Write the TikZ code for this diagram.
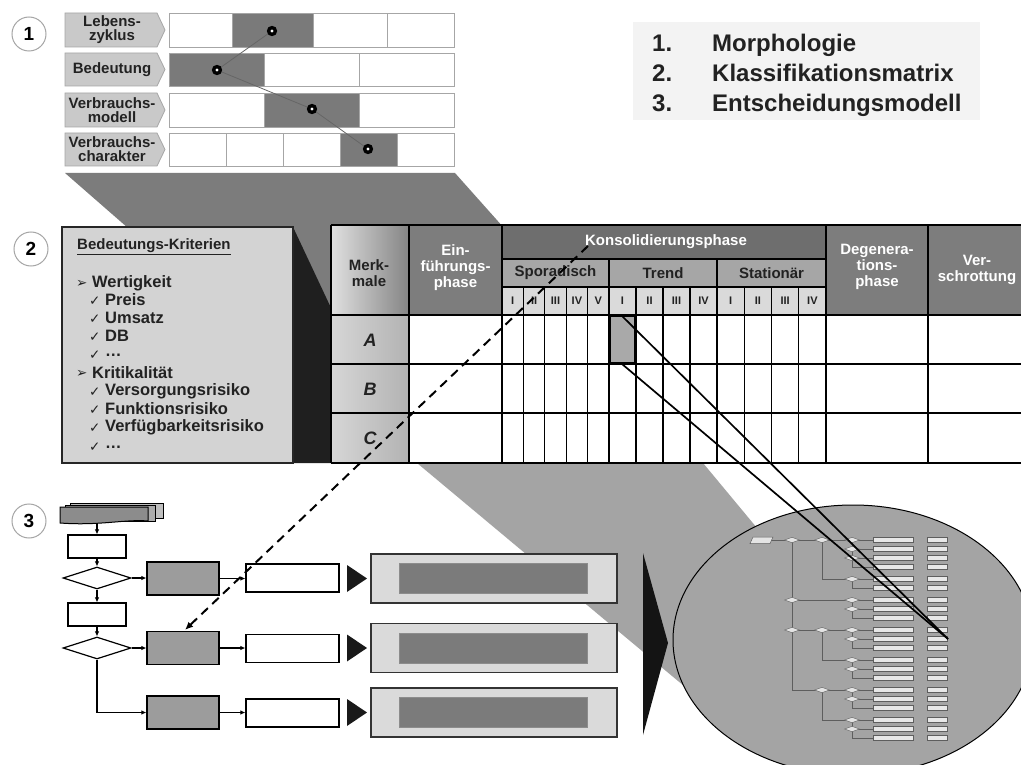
\documentclass[tikz,border=0pt]{standalone}
\usepackage{fontspec}
\setmainfont{Liberation Sans}
\newfontfamily\symfont{DejaVu Sans}
\usetikzlibrary{shapes.geometric,arrows.meta,calc}
\definecolor{funnel}{HTML}{7C7C7C}
\definecolor{bigfunnel}{HTML}{A4A4A4}
\definecolor{hdrdark}{HTML}{6E6E6E}
\definecolor{hdrmid}{HTML}{7D7D7D}
\definecolor{hdrsub}{HTML}{A6A6A6}
\definecolor{hdrroman}{HTML}{DADADA}
\definecolor{hlcell}{HTML}{A9A9A9}
\definecolor{lightbox}{HTML}{DADADA}
\definecolor{innerfill}{HTML}{7B7B7B}
\definecolor{darkfill}{HTML}{7A7A7A}
\definecolor{grayboxfill}{HTML}{9C9C9C}
\definecolor{labelfill}{HTML}{C9C9C9}
\definecolor{critfill}{HTML}{D3D3D3}
\definecolor{txtdark}{HTML}{222222}
\definecolor{treeline}{HTML}{5E5E5E}
\definecolor{treedia}{HTML}{E4E4E4}
\definecolor{treebar}{HTML}{E8E8E8}
\definecolor{listbg}{HTML}{F3F3F3}
\newcommand\myfs[2]{\fontsize{#1}{#2}\selectfont}
\begin{document}
\begin{tikzpicture}[x=1pt,y=-1pt,
  numcirc/.style={circle, draw=black!35, line width=1pt, fill=white, minimum size=34pt, inner sep=0pt, font=\myfs{19}{19}\bfseries},
  lab/.style={font=\myfs{15}{14}\bfseries, text=txtdark, align=center, inner sep=0pt},
  cellw/.style={draw=black!35, line width=0.8pt, fill=white},
  celld/.style={draw=black!35, line width=0.8pt, fill=darkfill},
  pent/.style={draw=black!35, line width=0.8pt, fill=labelfill},
  dotlink/.style={draw=black!60, line width=0.8pt},
  hdrw/.style={font=\myfs{15}{16}\bfseries, text=white, align=center, inner sep=0pt},
  hdrd/.style={font=\myfs{15}{16}\bfseries, text=txtdark, align=center, inner sep=0pt},
  roman/.style={font=\myfs{11}{11}\bfseries, text=txtdark, inner sep=0pt},
  rowletter/.style={font=\myfs{18}{18}\bfseries\itshape, text=txtdark, inner sep=0pt},
  grid/.style={draw=black, line width=1.3pt},
  crit/.style={font=\myfs{16.5}{18}\bfseries, text=txtdark, anchor=west, inner sep=0pt},
  critsym/.style={font=\myfs{13.5}{13.5}\symfont, text=txtdark, anchor=west, inner sep=0pt},
  listtxt/.style={font=\myfs{24}{24}\bfseries, text=txtdark, anchor=base west, inner sep=0pt},
  wbox/.style={draw=black, line width=1.2pt, fill=white, inner sep=0pt, minimum width=58pt, minimum height=23pt},
  fdia/.style={diamond, aspect=3, draw=black, line width=1.2pt, fill=white, inner sep=0pt, minimum width=68pt, minimum height=22pt},
  gbox/.style={draw=black, line width=1.2pt, fill=grayboxfill, inner sep=0pt, minimum width=72pt, minimum height=33pt},
  wbox2/.style={draw=black, line width=1.2pt, fill=white, inner sep=0pt, minimum width=93pt, minimum height=28pt},
  lbox/.style={draw=black!80, line width=1.3pt, fill=lightbox, inner sep=0pt, minimum width=246pt, minimum height=49pt},
  ibox/.style={draw=black!45, line width=0.6pt, fill=innerfill, inner sep=0pt, minimum width=188pt, minimum height=30pt},
  farrow/.style={-{Latex[length=5pt,width=4.5pt]}, line width=1.2pt, draw=black},
  tdia/.style={diamond, aspect=2.6, draw=treeline, line width=0.4pt, fill=treedia, inner sep=0pt, minimum width=15pt, minimum height=5.5pt},
  tline/.style={draw=treeline, line width=0.7pt},
  tbar/.style={draw=treeline, line width=0.5pt, fill=treebar}
]
\useasboundingbox (0,0) rectangle (1021,765);
\fill[white] (0,0) rectangle (1021,765);

% ---------- funnels (background) ----------
\fill[funnel] (65,173) -- (455,173) -- (504,228) -- (128,228) -- cycle;
\fill[funnel] (292,226) -- (332,226) -- (332,311) -- cycle;
\fill[black!88] (293,227) -- (332,310) -- (332,463) -- (293,463) -- cycle;
\fill[bigfunnel] (417,463) -- (703,463) -- (757,528) -- (800,600) -- (684,686) -- cycle;

% ---------- ellipse with decision tree ----------
\filldraw[fill=bigfunnel, draw=black, line width=1pt] (853,640) ellipse [x radius=180pt, y radius=135pt];
\foreach \yy in {540,549,558,567,579,588,600,609,618,630,639,648,660,669,678,690,699,708,720,729,738} {
  \filldraw[tbar] (873,\yy-2.4) rectangle (913,\yy+2.4);
  \filldraw[tbar] (927,\yy-2.4) rectangle (947,\yy+2.4);
}
\draw[tline] (770,540) -- (873,540);
\draw[tline] (792,540) -- (792,690) -- (822,690);
\draw[tline] (792,600) -- (873,600);
\draw[tline] (792,630) -- (873,630);
\draw[tline] (822,630) -- (822,660) -- (873,660);
\draw[tline] (822,690) -- (873,690);
\draw[tline] (822,690) -- (822,720) -- (873,720);
\draw[tline] (822,540) -- (822,579) -- (873,579);
\draw[tline] (852,540) -- (852,567) -- (873,567);
\draw[tline] (852,549) -- (873,549);
\draw[tline] (852,558) -- (873,558);
\draw[tline] (852,579) -- (852,588) -- (873,588);
\foreach \ra in {600,630,660,690,720} {
  \draw[tline] (852,\ra) -- (852,\ra+18) -- (873,\ra+18);
  \draw[tline] (852,\ra+9) -- (873,\ra+9);
}
\filldraw[draw=treeline, line width=0.5pt, fill=treedia] (753,537) -- (773,537) -- (770,543.5) -- (750,543.5) -- cycle;
\foreach \px/\py in {792/540,822/540,792/600,792/630,822/630,822/690,852/540,852/549,852/558,852/579,852/600,852/609,852/630,852/639,852/660,852/669,852/690,852/699,852/720,852/729} {
  \node[tdia] at (\px,\py) {};
}

% big black triangle
\fill[black!92] (643,553) -- (668,643) -- (643,735) -- cycle;

% ---------- section 1 ----------
\node[numcirc] (n1) at (29,34) {1};
\filldraw[pent] (65,13) -- (157,13) -- (165,30) -- (157,47) -- (65,47) -- cycle;
\node[lab] (lab1) at (112,30) {Lebens-\\zyklus};
\filldraw[pent] (65,53) -- (157,53) -- (165,69.5) -- (157,86) -- (65,86) -- cycle;
\node[lab] (lab2) at (112,69.5) {Bedeutung};
\filldraw[pent] (65,93) -- (157,93) -- (165,110) -- (157,127) -- (65,127) -- cycle;
\node[lab] (lab3) at (112,110) {Verbrauchs-\\modell};
\filldraw[pent] (65,133) -- (157,133) -- (165,149.5) -- (157,166) -- (65,166) -- cycle;
\node[lab] (lab4) at (112,149.5) {Verbrauchs-\\charakter};
% row 1
\filldraw[cellw] (169,13) rectangle (232,47);
\filldraw[celld] (232,13) rectangle (313,47);
\filldraw[cellw] (313,13) rectangle (387,47);
\filldraw[cellw] (387,13) rectangle (454,47);
% row 2
\filldraw[celld] (169,53) rectangle (264,86);
\filldraw[cellw] (264,53) rectangle (359,86);
\filldraw[cellw] (359,53) rectangle (454,86);
% row 3
\filldraw[cellw] (169,93) rectangle (264,127);
\filldraw[celld] (264,93) rectangle (359,127);
\filldraw[cellw] (359,93) rectangle (454,127);
% row 4
\filldraw[cellw] (169,133) rectangle (226,166);
\filldraw[cellw] (226,133) rectangle (283,166);
\filldraw[cellw] (283,133) rectangle (340,166);
\filldraw[celld] (340,133) rectangle (397,166);
\filldraw[cellw] (397,133) rectangle (454,166);
\coordinate (d1) at (272,31);
\coordinate (d2) at (217,70);
\coordinate (d3) at (312,109);
\coordinate (d4) at (368,149);
\draw[dotlink] (d1) -- (d2) -- (d3) -- (d4);
\foreach \d in {d1,d2,d3,d4} {
  \fill[black] (\d) circle (5.2pt);
  \fill[white] (\d) circle (1.7pt);
}

% list top right
\fill[listbg] (633,22) rectangle (980,120);
\node[listtxt] (l1n) at (652,52) {1.};
\node[listtxt] (l1t) at (712,52) {Morphologie};
\node[listtxt] (l2n) at (652,82) {2.};
\node[listtxt] (l2t) at (712,82) {Klassifikationsmatrix};
\node[listtxt] (l3n) at (652,112) {3.};
\node[listtxt] (l3t) at (712,112) {Entscheidungsmodell};

% ---------- section 2 ----------
\node[numcirc] (n2) at (31,249) {2};
\filldraw[fill=critfill, draw=black!85, line width=1.4pt] (62,227) rectangle (293,463);
\node[crit, font=\myfs{15}{15}\bfseries] (ctitle) at (77,247) {\underline{Bedeutungs-Kriterien}};
\node[critsym] (s1) at (76,284) {➢};
\node[crit] (c1) at (92,283) {Wertigkeit};
\node[critsym] (k1) at (89,301) {✓};
\node[crit] (c11) at (105,300) {Preis};
\node[critsym] (k2) at (89,319) {✓};
\node[crit] (c12) at (105,318) {Umsatz};
\node[critsym] (k3) at (89,337) {✓};
\node[crit] (c13) at (105,336) {DB};
\node[critsym] (k4) at (89,355) {✓};
\node[crit] (c14) at (105,355) {\ldots};
\node[critsym] (s2) at (76,374) {➢};
\node[crit] (c2) at (92,373) {Kritikalität};
\node[critsym] (k5) at (89,392) {✓};
\node[crit] (c21) at (105,391) {Versorgungsrisiko};
\node[critsym] (k6) at (89,410) {✓};
\node[crit] (c22) at (105,409) {Funktionsrisiko};
\node[critsym] (k7) at (89,428) {✓};
\node[crit] (c23) at (105,427) {Verfügbarkeitsrisiko};
\node[critsym] (k8) at (89,447) {✓};
\node[crit] (c24) at (105,447) {\ldots};

% matrix fills
\shade[left color=black!12, right color=black!48] (331,225) rectangle (409,315);
\fill[hdrmid] (409,225) rectangle (502,315);
\fill[hdrdark] (502,225) rectangle (826,259);
\fill[hdrsub] (502,259) rectangle (826,287);
\fill[hdrroman] (502,287) rectangle (826,315);
\fill[hdrmid] (826,225) rectangle (1022,315);
\shade[left color=black!16, right color=black!30] (331,315) rectangle (409,463);
\fill[white] (409,315) rectangle (1022,463);
\fill[hlcell] (609,315) rectangle (636,364);
% grid
\foreach \xx in {523.4,544.8,566.2,587.6,636,663,690,744.25,771.5,798.75} {
  \draw[grid, line width=1.1pt] (\xx,287) -- (\xx,463);
}
\foreach \xx in {609,717} { \draw[grid] (\xx,259) -- (\xx,463); }
\foreach \xx in {331,409,502,826,928} { \draw[grid] (\xx,225) -- (\xx,463); }
\draw[grid] (502,259) -- (826,259);
\draw[grid] (502,287) -- (826,287);
\foreach \yy in {225,315,364,413,463} { \draw[grid] (331,\yy) -- (1022,\yy); }
\draw[line width=2.2pt] (610,316) rectangle (635,363);
% header texts
\node[hdrd] (merk) at (369,273) {Merk-\\male};
\node[hdrw] (einf) at (455.5,268) {Ein-\\führungs-\\phase};
\node[hdrw] (kons) at (666,242) {Konsolidierungsphase};
\node[hdrd] (spor) at (555.5,273) {Sporadisch};
\node[hdrd] (trend) at (663,273) {Trend};
\node[hdrd] (stat) at (771.5,273) {Stationär};
\node[hdrw] (degen) at (877,267) {Degenera-\\tions-\\phase};
\node[hdrw] (verschr) at (977,270) {Ver-\\schrottung};
\foreach \xx/\rr in {512.7/I,534.1/II,555.5/III,576.9/IV,598.3/V,622.5/I,649.5/II,676.5/III,703.5/IV,730.6/I,757.9/II,785.1/III,812.4/IV} {
  \node[roman] at (\xx,301) {\rr};
}
\node[rowletter] (rA) at (370,340) {A};
\node[rowletter] (rB) at (370,389) {B};
\node[rowletter] (rC) at (370,438) {C};

% ---------- section 3 ----------
\node[numcirc] (n3) at (29,521) {3};
\filldraw[fill=black!25, draw=black, line width=0.8pt] (70,503) rectangle (163,518);
\filldraw[fill=black!33, draw=black, line width=0.8pt] (65,505) rectangle (155,521);
\filldraw[fill=black!45, draw=black, line width=1pt] (60,507) -- (148,507) -- (148,521) .. controls (125,519) and (100,526) .. (60,523) -- cycle;
\node[inner sep=0pt, minimum width=74pt, minimum height=16pt] (doc) at (97,515) {};
\node[wbox] (b1) at (97,546.5) {};
\node[fdia] (dia1) at (97,578) {};
\node[wbox] (b2) at (97,614.5) {};
\node[fdia] (dia2) at (97,648) {};
\node[gbox] (g1) at (183,578.5) {};
\node[gbox] (g2) at (183,648) {};
\node[gbox] (g3) at (183,712.5) {};
\node[wbox2] (w1) at (292.5,578) {};
\node[wbox2] (w2) at (292.5,648.5) {};
\node[wbox2] (w3) at (292.5,713) {};
\node[lbox] (L1) at (494,578.5) {};
\node[lbox] (L2) at (494,648) {};
\node[lbox] (L3) at (494,712.5) {};
\node[ibox] (I1) at (493,578) {};
\node[ibox] (I2) at (493,648) {};
\node[ibox] (I3) at (493,712) {};
\fill[black!90] (347,565) -- (367,578.5) -- (347,592) -- cycle;
\fill[black!90] (347,634.5) -- (367,648) -- (347,661.5) -- cycle;
\fill[black!90] (347,699) -- (367,712.5) -- (347,726) -- cycle;
\draw[farrow] (doc.south) -- (b1.north);
\draw[farrow] (b1.south) -- (dia1.north);
\draw[farrow] (dia1.east) -- (dia1.east -| g1.west);
\draw[farrow] (dia1.south) -- (b2.north);
\draw[farrow] (b2.south) -- (dia2.north);
\draw[farrow] (dia2.east) -- (dia2.east -| g2.west);
\draw[farrow] (dia2.south) |- (g3.west);
\draw[farrow] (g1.east) -- (g1.east -| w1.west);
\draw[farrow] (g2.east) -- (g2.east -| w2.west);
\draw[farrow] (g3.east) -- (g3.east -| w3.west);

% ---------- connectors across sections ----------
\coordinate (hlt) at (622,316);
\coordinate (hlb) at (622,364);
\coordinate (focus) at (948,639);
\draw[black, line width=1.7pt] (hlt) -- (focus);
\draw[black, line width=1.7pt] (hlb) -- (focus);
\coordinate (dstart) at (588,246);
\draw[black, line width=2pt, dash pattern=on 9pt off 6pt, -{Latex[length=8pt,width=7pt]}] (dstart) -- ($(g2.north)+(2,-1)$);
\end{tikzpicture}
\end{document}
